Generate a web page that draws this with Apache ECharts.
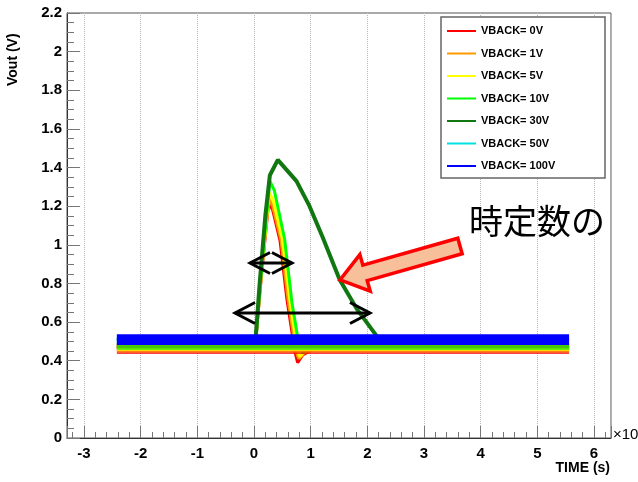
<!DOCTYPE html>
<html>
<head>
<meta charset="utf-8">
<script src="https://cdn.jsdelivr.net/npm/echarts@6/dist/echarts.min.js"></script>
<style>
  html, body { margin: 0; padding: 0; background: #fff; }
  #chart { width: 638px; height: 482px; }
</style>
</head>
<body>
<div id="chart"></div>
<script>
// Output pulse Vout versus time (x10^-6 s) for several back-bias voltages.
const seriesNames = ['VBACK= 0V', 'VBACK= 1V', 'VBACK= 5V', 'VBACK= 10V', 'VBACK= 30V', 'VBACK= 50V', 'VBACK= 100V'];
const seriesColors = ['#ff0000', '#ff9900', '#ffff00', '#00ff00', '#117711', '#00e0e0', '#0000ff'];

// Pulse shapes: [time, Vout]
const pulse0V   = [[-2.42, 0.47], [0.02, 0.47], [0.14, 0.87], [0.26, 1.22], [0.33, 1.18], [0.46, 1.02], [0.58, 0.72], [0.72, 0.45], [0.77, 0.39], [0.86, 0.43], [1.10, 0.47], [5.56, 0.47]];
const pulse1V   = [[-2.42, 0.47], [0.02, 0.47], [0.14, 0.88], [0.26, 1.24], [0.33, 1.20], [0.48, 1.02], [0.60, 0.72], [0.74, 0.45], [0.79, 0.41], [0.88, 0.44], [1.12, 0.47], [5.56, 0.47]];
const pulse5V   = [[-2.42, 0.47], [0.02, 0.47], [0.14, 0.89], [0.27, 1.27], [0.34, 1.23], [0.50, 1.03], [0.63, 0.72], [0.76, 0.46], [0.81, 0.42], [0.90, 0.45], [1.15, 0.47], [5.56, 0.47]];
const pulse10V  = [[-2.42, 0.47], [0.02, 0.47], [0.14, 0.90], [0.28, 1.33], [0.36, 1.28], [0.54, 1.03], [0.67, 0.70], [0.80, 0.47], [0.86, 0.44], [0.95, 0.46], [1.20, 0.47], [5.56, 0.47]];
const pulse30V  = [[-2.42, 0.48], [0.02, 0.48], [0.10, 0.80], [0.20, 1.15], [0.28, 1.36], [0.42, 1.44], [0.75, 1.33], [0.98, 1.20], [1.21, 1.04], [1.51, 0.82], [1.81, 0.67], [2.16, 0.53], [2.30, 0.49], [5.56, 0.48]];
const pulse50V  = [[-2.42, 0.51], [5.56, 0.51]];
const pulse100V = [[-2.42, 0.51], [5.56, 0.51]];
const pulses = [pulse0V, pulse1V, pulse5V, pulse10V, pulse30V, pulse50V, pulse100V];

// Baseline noise envelopes: [tStart, tEnd, VoutLow, VoutHigh]
const noise0V   = [-2.42, 5.56, 0.435, 0.49];
const noise1V   = [-2.42, 5.56, 0.443, 0.49];
const noise5V   = [-2.42, 5.56, 0.450, 0.49];
const noise10V  = [-2.42, 5.56, 0.456, 0.49];
const noise30V  = [-2.42, 5.56, 0.465, 0.49];
const noise50V  = [-2.42, 5.56, 0.490, 0.532];
const noise100V = [-2.42, 5.56, 0.482, 0.537];
const noiseBands = [noise0V, noise1V, noise5V, noise10V, noise30V, noise50V, noise100V];

// Annotations: double arrows [tLeft, tRight, Vout]; block arrow [tTail, vTail, tTip, vTip]
const doubleArrows = [[-0.07, 0.67, 0.906], [-0.335, 2.047, 0.647]];
const blockArrow = [[3.635, 0.994, 1.518, 0.818]];
const noteText = '時定数の';

const axisFont = "'Liberation Sans', Arial, sans-serif";

const chart = echarts.init(document.getElementById('chart'), null, { renderer: 'canvas' });

const series = [];
// Pulse traces first, baseline noise bands drawn over their flat parts.
seriesNames.forEach((name, i) => {
  const color = seriesColors[i];
  series.push({
    name: name,
    type: 'line',
    data: pulses[i],
    showSymbol: false,
    symbol: 'none',
    color: color,
    lineStyle: { color: color, width: i === 4 ? 4 : 3 },
    silent: true,
    z: 2
  });
});
const bandOpacity = [0.75, 0.7, 0.7, 0.6, 0.35, 0.9, 1];
seriesNames.forEach((name, i) => {
  const color = seriesColors[i];
  series.push({
    name: name + ' noise',
    type: 'custom',
    silent: true,
    data: [noiseBands[i]],
    encode: { x: [0, 1], y: [2, 3] },
    renderItem: (params, api) => {
      const p0 = api.coord([api.value(0), api.value(3)]);
      const p1 = api.coord([api.value(1), api.value(2)]);
      return {
        type: 'rect',
        shape: { x: p0[0], y: p0[1], width: p1[0] - p0[0], height: p1[1] - p0[1] },
        style: { fill: color, opacity: bandOpacity[i] }
      };
    },
    z: 3
  });
});

series.push({
  name: 'double arrows',
  type: 'custom',
  silent: true,
  data: doubleArrows,
  encode: { x: [0, 1], y: 2 },
  renderItem: (params, api) => {
    const a = api.coord([api.value(0), api.value(2)]);
    const b = api.coord([api.value(1), api.value(2)]);
    const hx = 20, hy = 10.5;
    const st = { stroke: '#000', lineWidth: 3, fill: null, lineJoin: 'miter' };
    return {
      type: 'group',
      children: [
        { type: 'line', shape: { x1: a[0], y1: a[1], x2: b[0], y2: b[1] }, style: st },
        { type: 'polyline', shape: { points: [[a[0] + hx, a[1] - hy], [a[0], a[1]], [a[0] + hx, a[1] + hy]] }, style: st },
        { type: 'polyline', shape: { points: [[b[0] - hx, b[1] - hy], [b[0], b[1]], [b[0] - hx, b[1] + hy]] }, style: st }
      ]
    };
  },
  z: 5
});

series.push({
  name: 'block arrow',
  type: 'custom',
  silent: true,
  data: blockArrow,
  encode: { x: [0, 2], y: [1, 3] },
  renderItem: (params, api) => {
    const T = api.coord([api.value(0), api.value(1)]);
    const P = api.coord([api.value(2), api.value(3)]);
    const dx = T[0] - P[0], dy = T[1] - P[1];
    const len = Math.hypot(dx, dy);
    const ux = dx / len, uy = dy / len;
    const nx = -uy, ny = ux;
    const headLen = 26, headHalf = 19, shaftHalf = 8;
    const B = [P[0] + headLen * ux, P[1] + headLen * uy];
    const pts = [
      P,
      [B[0] + headHalf * nx, B[1] + headHalf * ny],
      [B[0] + shaftHalf * nx, B[1] + shaftHalf * ny],
      [T[0] + shaftHalf * nx, T[1] + shaftHalf * ny],
      [T[0] - shaftHalf * nx, T[1] - shaftHalf * ny],
      [B[0] - shaftHalf * nx, B[1] - shaftHalf * ny],
      [B[0] - headHalf * nx, B[1] - headHalf * ny]
    ];
    return {
      type: 'polygon',
      shape: { points: pts },
      style: { fill: '#f7c09a', stroke: '#ff0000', lineWidth: 3.5, lineJoin: 'miter' }
    };
  },
  z: 6
});

const option = {
  backgroundColor: '#ffffff',
  animation: false,
  grid: {
    left: 67, top: 13, width: 544, height: 425,
    show: true, borderColor: '#555', borderWidth: 1, backgroundColor: 'transparent'
  },
  xAxis: {
    type: 'value',
    min: -3.3, max: 6.3,
    minInterval: 1, maxInterval: 1, splitNumber: 10,
    axisLine: { show: true, onZero: false, lineStyle: { color: '#333', width: 1 } },
    axisTick: { show: true, inside: true, length: 12, lineStyle: { color: '#777' } },
    minorTick: { show: true, splitNumber: 5, length: 6, lineStyle: { color: '#777' } },
    splitLine: { show: true, lineStyle: { type: 'dotted', color: '#b8b8b8', width: 1 } },
    axisLabel: {
      showMinLabel: false, showMaxLabel: false, margin: 8,
      color: '#000', fontFamily: axisFont, fontWeight: 'bold', fontSize: 15
    }
  },
  yAxis: {
    type: 'value',
    min: 0, max: 2.2, interval: 0.2,
    axisLine: { show: true, onZero: false, lineStyle: { color: '#333', width: 1 } },
    axisTick: { show: true, inside: true, length: 13, lineStyle: { color: '#777' } },
    minorTick: { show: true, splitNumber: 4, length: 7, lineStyle: { color: '#777' } },
    splitLine: { show: false },
    axisLabel: {
      margin: 5, color: '#000', fontFamily: axisFont, fontWeight: 'bold', fontSize: 15
    }
  },
  legend: {
    data: seriesNames,
    orient: 'vertical',
    left: 447, top: 24,
    icon: 'rect',
    itemWidth: 29, itemHeight: 2,
    itemGap: 8.5,
    padding: 0,
    selectedMode: false,
    textStyle: { color: '#000', fontFamily: axisFont, fontWeight: 'bold', fontSize: 11, lineHeight: 14 },
    z: 12
  },
  graphic: [
    {
      type: 'rect', z: 10,
      shape: { x: 441, y: 17, width: 164, height: 161 },
      style: { fill: '#fff', stroke: '#666', lineWidth: 1.5 }
    },
    {
      type: 'text', z: 10,
      x: 13, y: 86, rotation: Math.PI / 2,
      style: {
        text: 'Vout (V)', x: 0, y: 0, align: 'left', verticalAlign: 'middle',
        fill: '#000', font: "bold 14px 'Liberation Sans', Arial, sans-serif"
      }
    },
    {
      type: 'text', z: 10,
      style: {
        text: 'TIME (s)', x: 610, y: 468, align: 'right', verticalAlign: 'middle',
        fill: '#000', font: 'bold 14px ' + axisFont
      }
    },
    {
      type: 'text', z: 10,
      style: {
        text: '×10{sup|-6}', x: 613, y: 435, align: 'left', verticalAlign: 'middle',
        fill: '#000', font: '15px ' + axisFont,
        rich: { sup: { fontSize: 10, verticalAlign: 'top', padding: [0, 0, 8, 0], fontFamily: axisFont } }
      }
    },
    {
      type: 'text', z: 10,
      style: {
        text: noteText, x: 469, y: 221, align: 'left', verticalAlign: 'middle',
        fill: '#000', font: "34px 'Noto Sans CJK JP', sans-serif"
      }
    }
  ],
  series: series
};

chart.setOption(option);
</script>
</body>
</html>
